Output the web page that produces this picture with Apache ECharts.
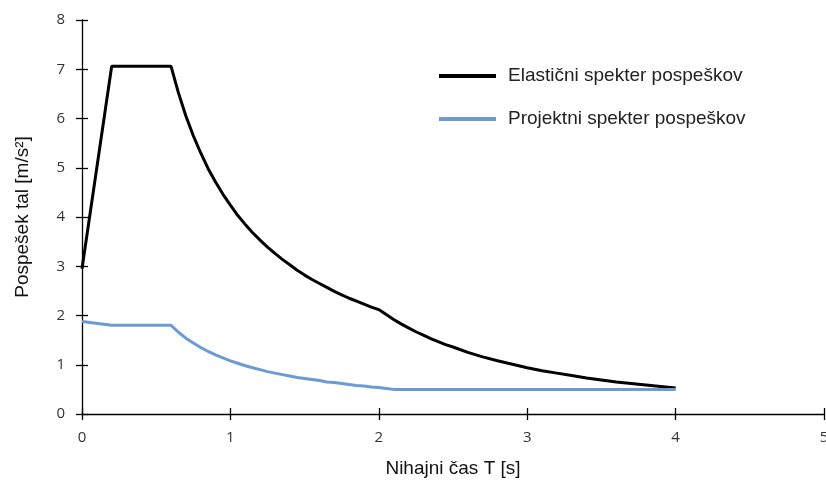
<!DOCTYPE html>
<html>
<head>
<meta charset="utf-8">
<script src="https://cdn.jsdelivr.net/npm/echarts@6/dist/echarts.min.js"></script>
<style>
  html, body { margin: 0; padding: 0; background: #fff; }
  #myChart { width: 826px; height: 487px; }
</style>
</head>
<body>
<div id="myChart"></div>
<script>
// values
var periodElastic = [0, 0.2, 0.6, 0.65, 0.7, 0.75, 0.8, 0.85, 0.9, 0.95, 1.0, 1.05, 1.1, 1.15, 1.2, 1.25, 1.3,
  1.35, 1.4, 1.45, 1.5, 1.55, 1.6, 1.65, 1.7, 1.75, 1.8, 1.85, 1.9, 1.95, 2.0,
  2.05, 2.1, 2.15, 2.2, 2.25, 2.3, 2.35, 2.4, 2.45, 2.5, 2.6, 2.7, 2.8, 2.9, 3.0,
  3.1, 3.2, 3.3, 3.4, 3.5, 3.6, 3.7, 3.8, 3.9, 4.0]
var accElastic = [2.95, 7.06, 7.06, 6.52, 6.05, 5.65, 5.30, 4.98, 4.71, 4.46, 4.24, 4.03, 3.85, 3.68, 3.53, 3.39, 3.26,
  3.14, 3.03, 2.92, 2.82, 2.73, 2.65, 2.57, 2.49, 2.42, 2.35, 2.29, 2.23, 2.17, 2.12,
  2.02, 1.92, 1.83, 1.75, 1.67, 1.60, 1.53, 1.47, 1.41, 1.36, 1.25, 1.16, 1.08, 1.01, 0.94,
  0.88, 0.83, 0.78, 0.73, 0.69, 0.65, 0.62, 0.59, 0.56, 0.53]

var periodDesign = [0, 0.2, 0.6, 0.65, 0.7, 0.75, 0.8, 0.85, 0.9, 0.95, 1.0, 1.05, 1.1, 1.15, 1.2, 1.25, 1.3,
  1.35, 1.4, 1.45, 1.5, 1.55, 1.6, 1.65, 1.7, 1.75, 1.8, 1.85, 1.9, 1.95, 2.0, 2.05, 2.1, 4.0]
var accDesign = [1.88, 1.80, 1.80, 1.66, 1.54, 1.44, 1.35, 1.27, 1.20, 1.14, 1.08, 1.03, 0.98, 0.94, 0.90, 0.86, 0.83,
  0.80, 0.77, 0.74, 0.72, 0.70, 0.68, 0.65, 0.64, 0.62, 0.60, 0.58, 0.57, 0.55, 0.54, 0.52, 0.50, 0.50]

var seriesNames = ['Elastični spekter pospeškov', 'Projektni spekter pospeškov']

function pairs(xs, ys) {
  return xs.map(function(x, i) { return [x, ys[i]] })
}

var myChart = echarts.init(document.getElementById('myChart'))

var tickStyle = { color: '#000', width: 1.3 }
var labelStyle = { fontFamily: 'Open Sans', fontSize: 15, color: '#333' }
var nameStyle = { fontFamily: 'Liberation Sans', fontSize: 19, color: '#111' }

var option = {
  animation: false,
  grid: { left: 82, right: 2, top: 20, bottom: 73, outerBoundsMode: 'none' },
  legend: {
    orient: 'vertical',
    left: 434,
    top: 61,
    icon: 'rect',
    itemWidth: 57,
    itemHeight: 4,
    itemGap: 23,
    textStyle: { fontFamily: 'Liberation Sans', fontSize: 19, color: '#222', padding: [0, 0, 0, 7], lineHeight: 20 },
    data: seriesNames
  },
  xAxis: [
    {
      type: 'value',
      min: 0,
      max: 5,
      interval: 1,
      name: 'Nihajni čas T [s]',
      nameLocation: 'middle',
      nameGap: 45,
      nameTextStyle: nameStyle,
      splitLine: { show: false },
      axisLine: { lineStyle: tickStyle },
      axisTick: { length: 6, lineStyle: tickStyle },
      axisLabel: Object.assign({ margin: 16 }, labelStyle)
    },
    {
      type: 'value',
      min: 0,
      max: 5,
      interval: 1,
      position: 'bottom',
      splitLine: { show: false },
      axisLine: { show: false },
      axisTick: { inside: true, length: 6, lineStyle: tickStyle },
      axisLabel: { show: false }
    }
  ],
  yAxis: [
    {
      type: 'value',
      min: 0,
      max: 8,
      interval: 1,
      name: 'Pospešek tal [m/s²]',
      nameLocation: 'middle',
      nameGap: 50,
      nameTextStyle: nameStyle,
      splitLine: { show: false },
      axisLine: { show: true, lineStyle: tickStyle },
      axisTick: { show: true, length: 6, lineStyle: tickStyle },
      axisLabel: Object.assign({ margin: 17 }, labelStyle)
    },
    {
      type: 'value',
      min: 0,
      max: 8,
      interval: 1,
      position: 'left',
      splitLine: { show: false },
      axisLine: { show: false },
      axisTick: { show: true, inside: true, length: 6, lineStyle: tickStyle },
      axisLabel: { show: false }
    }
  ],
  series: [
    {
      name: seriesNames[0],
      type: 'line',
      data: pairs(periodElastic, accElastic),
      showSymbol: false,
      lineStyle: { color: '#000', width: 3 },
      itemStyle: { color: '#000' }
    },
    {
      name: seriesNames[1],
      type: 'line',
      data: pairs(periodDesign, accDesign),
      showSymbol: false,
      lineStyle: { color: '#6b9bd2', width: 3 },
      itemStyle: { color: '#6b9bd2' }
    }
  ]
}

myChart.setOption(option)
</script>
</body>
</html>
